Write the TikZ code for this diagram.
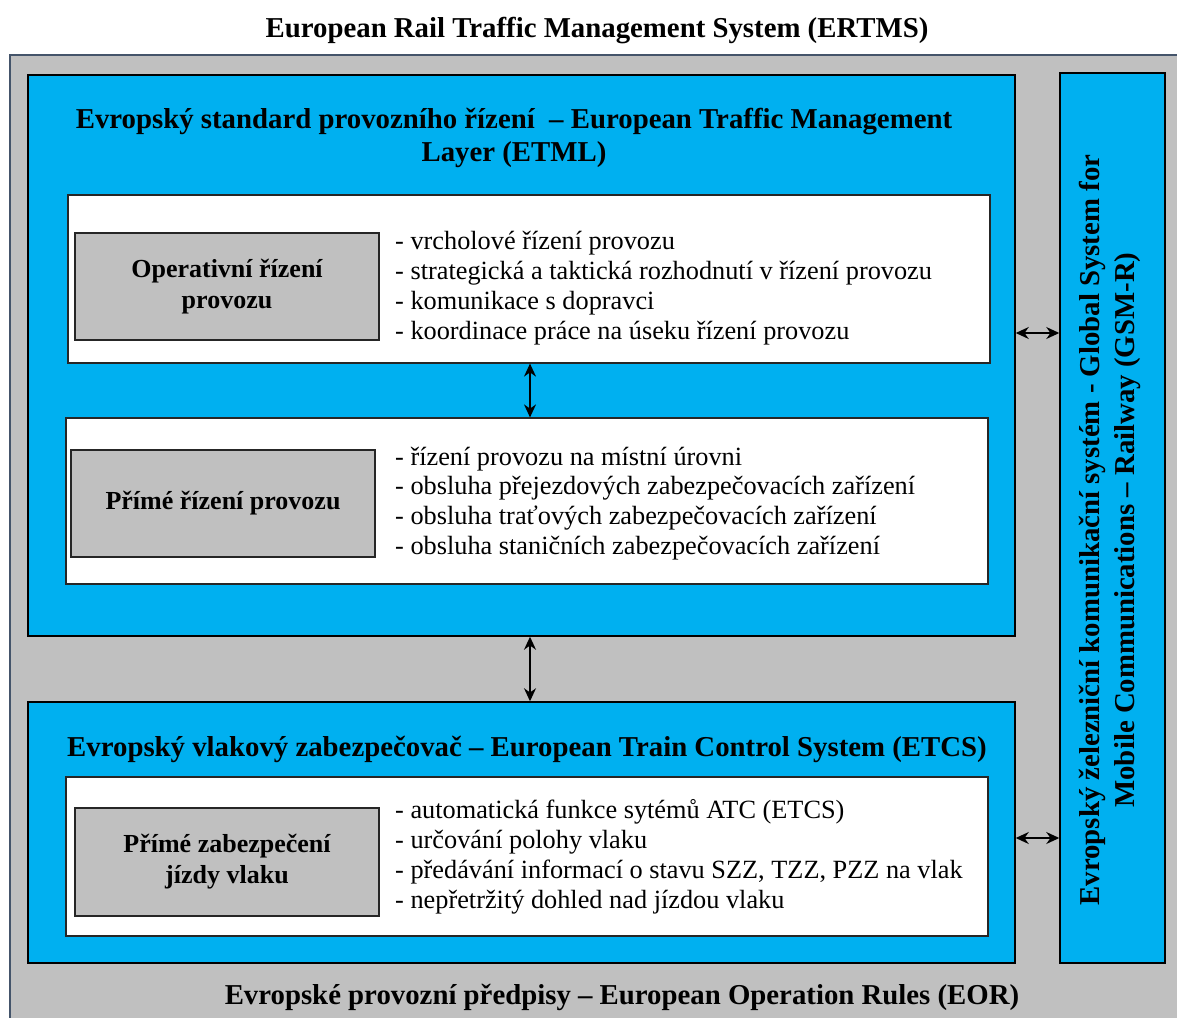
\documentclass[tikz,border=0pt]{standalone}
\usepackage{fontspec}
\setmainfont{Liberation Serif}
\usetikzlibrary{arrows.meta}
\definecolor{ertblue}{HTML}{00B0F0}
\definecolor{ertgray}{HTML}{C0C0C0}
\definecolor{frameblue}{HTML}{44546A}
\tikzset{
  layerbox/.style={draw=black, line width=1.5pt, fill=ertblue, rectangle, inner sep=0pt},
  whitebox/.style={draw=black!85, line width=1.2pt, fill=white, rectangle, inner sep=0pt},
  graybox/.style={draw=black!85, line width=1.2pt, fill=ertgray, rectangle, inner sep=0pt, align=center, font=\fontsize{26}{31}\selectfont\bfseries},
  listtext/.style={align=left, inner sep=0pt, anchor=west, font=\fontsize{26.3}{29.8}\selectfont},
  titletext/.style={inner sep=0pt, align=center, font=\fontsize{28.8}{33}\selectfont\bfseries},
  biarrow/.style={{Stealth[length=13pt,width=12pt]}-{Stealth[length=13pt,width=12pt]}, line width=1.4pt}
}
\begin{document}
\begin{tikzpicture}[x=1pt,y=-1pt]
\useasboundingbox (0,0) rectangle (1177,1017);
\fill[white] (0,0) rectangle (1177,1017);
\begin{scope}
\clip (0,0) rectangle (1177,1017);
\fill[ertgray] (10,55) rectangle (1190,1030);
\draw[frameblue, line width=1.5pt] (10,1030) -- (10,55) -- (1190,55);
\end{scope}
% title
\node[titletext] (ertms) at (597,31) {European Rail Traffic Management System (ERTMS)};
% ETML layer
\node[layerbox, minimum width=987pt, minimum height=561pt] (etml) at (521.5,355.5) {};
\node[titletext] (etmltitle) at (514,137.5) {Evropský standard provozního řízení \ – European Traffic Management\\Layer (ETML)};
% box 1
\node[whitebox, minimum width=922pt, minimum height=168pt] (w1) at (529,279) {};
\node[graybox, minimum width=304pt, minimum height=107pt] (g1) at (227,286.5) {Operativní řízení\\provozu};
\node[listtext] (l1) at (395,288) {- vrcholové řízení provozu\\- strategická a taktická rozhodnutí v řízení provozu\\- komunikace s dopravci\\- koordinace práce na úseku řízení provozu};
% box 2
\node[whitebox, minimum width=922pt, minimum height=166pt] (w2) at (527,501) {};
\node[graybox, minimum width=304pt, minimum height=107pt] (g2) at (223,503.5) {Přímé řízení provozu};
\node[listtext] (l2) at (395,503.5) {- řízení provozu na místní úrovni\\- obsluha přejezdových zabezpečovacích zařízení\\- obsluha traťových zabezpečovacích zařízení\\- obsluha staničních zabezpečovacích zařízení};
% ETCS layer
\node[layerbox, minimum width=987pt, minimum height=261pt] (etcs) at (521.5,832.5) {};
\node[titletext] (etcstitle) at (527,749) {Evropský vlakový zabezpečovač – European Train Control System (ETCS)};
\node[whitebox, minimum width=922pt, minimum height=159pt] (w3) at (527,856.5) {};
\node[graybox, minimum width=304pt, minimum height=108pt] (g3) at (227,862) {Přímé zabezpečení\\jízdy vlaku};
\node[listtext] (l3) at (395,857) {- automatická funkce sytémů ATC (ETCS)\\- určování polohy vlaku\\- předávání informací o stavu SZZ, TZZ, PZZ na vlak\\- nepřetržitý dohled nad jízdou vlaku};
% GSM-R
\node[layerbox, minimum width=105pt, minimum height=890pt] (gsm) at (1112.5,518) {};
\node[titletext, rotate=90, font=\fontsize{28.8}{35}\selectfont\bfseries] (gsmtext) at (1110,530) {Evropský železniční komunikační systém - Global System for\\Mobile Communications – Railway (GSM-R)};
% bottom
\node[titletext] (eor) at (622,997) {Evropské provozní předpisy – European Operation Rules (EOR)};
% arrows
\draw[biarrow] (w1.south -| 530,0) -- (w2.north -| 530,0);
\draw[biarrow] (etml.south -| 530,0) -- (etcs.north -| 530,0);
\draw[biarrow] (etml.east |- 0,333) -- (gsm.west |- 0,333);
\draw[biarrow] (etcs.east |- 0,838) -- (gsm.west |- 0,838);
\end{tikzpicture}
\end{document}
